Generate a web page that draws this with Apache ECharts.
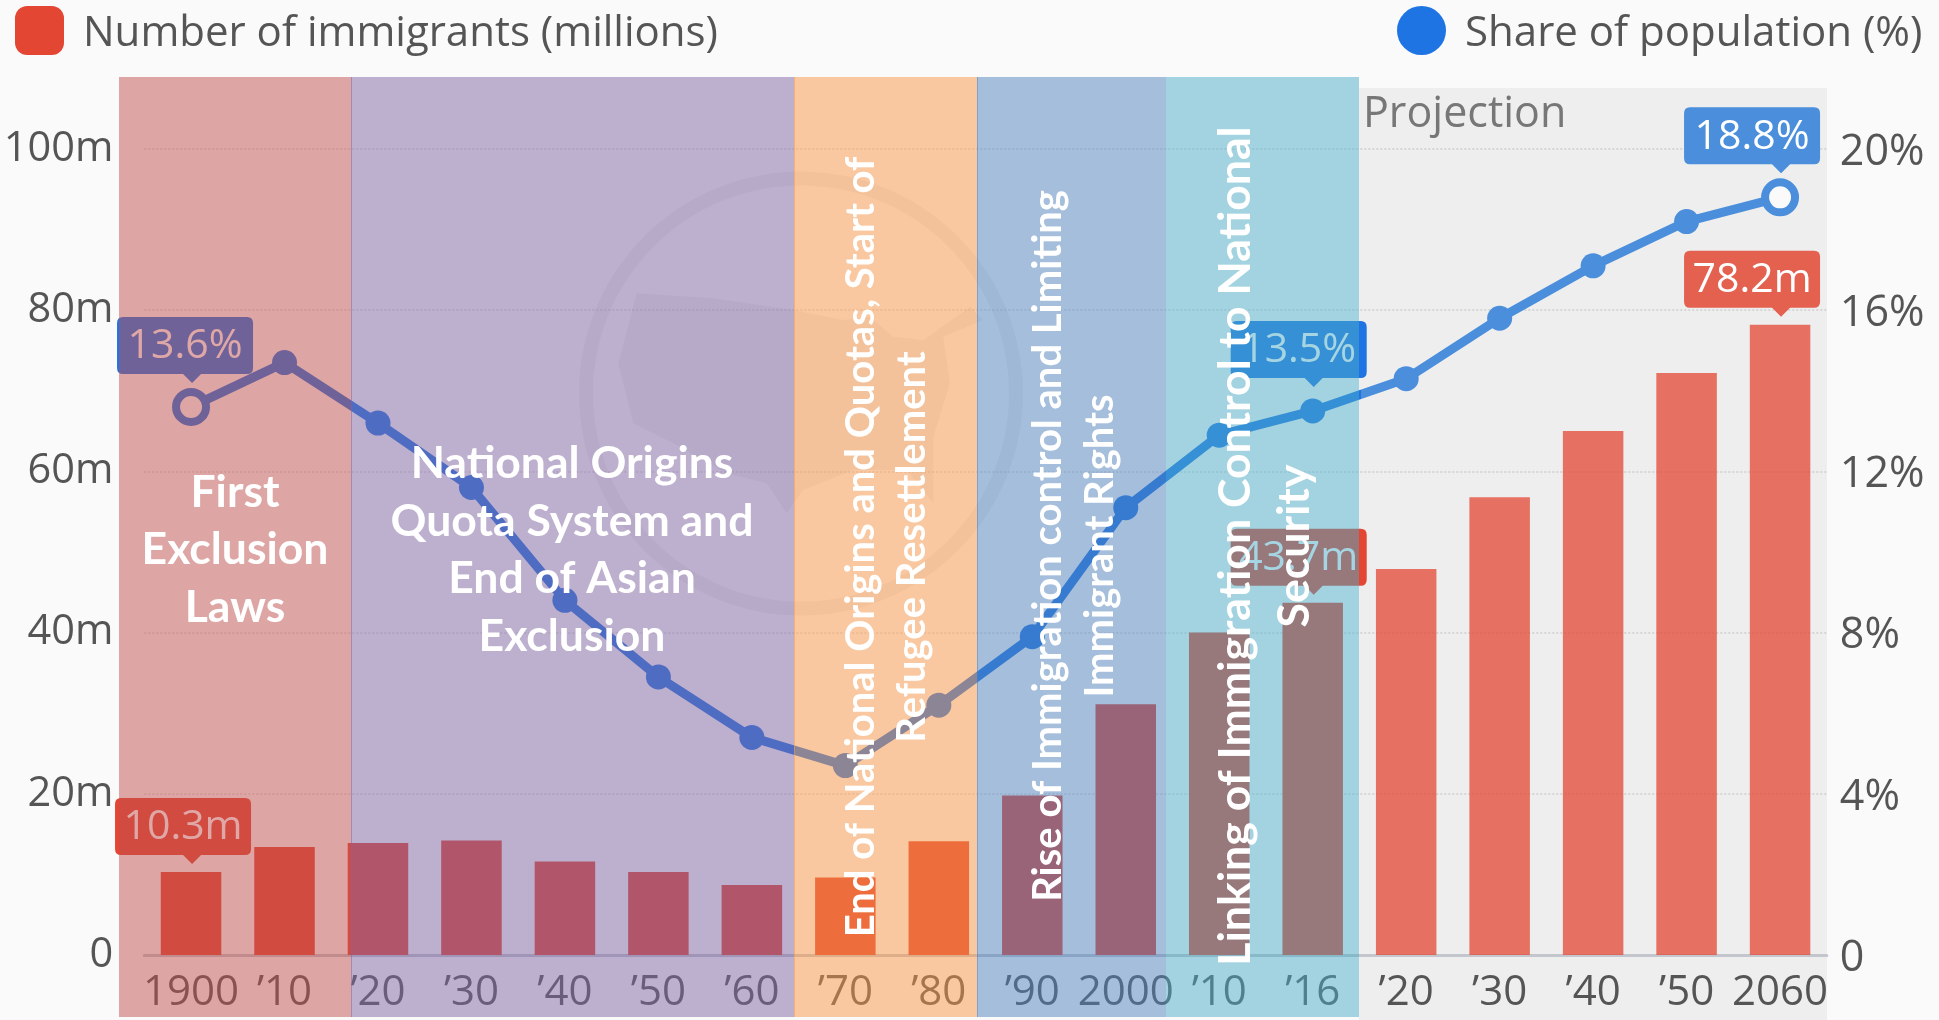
<!DOCTYPE html>
<html>
<head>
<meta charset="utf-8">
<style>html,body{margin:0;padding:0;background:#fafafa}#c{width:1939px;height:1020px}</style>
<script src="https://cdn.jsdelivr.net/npm/echarts@6/dist/echarts.min.js"></script>
</head>
<body>
<div id="c"></div>
<script>
var categories = ["1900","’10","’20","’30","’40","’50","’60","’70","’80","’90","2000","’10","’16","’20","’30","’40","’50","2060"];
var immigrants = [10.3,13.4,13.9,14.2,11.6,10.3,8.7,9.6,14.1,19.8,31.1,40.0,43.7,47.9,56.8,65.0,72.2,78.2];
var sharePct = [13.6,14.7,13.2,11.6,8.8,6.9,5.4,4.7,6.2,7.9,11.1,12.9,13.5,14.3,15.8,17.1,18.2,18.8];
var leftTicks = [0,20,40,60,80,100];
var rightTicks = [0,4,8,12,16,20];
var projectionFrom = 13;
var barCalloutIdx = [0,12,17];
var lineCalloutIdx = [0,12,17];
var eraLabels = ["First\nExclusion\nLaws","National Origins\nQuota System and\nEnd of Asian\nExclusion"];
var eraLabelsRotated = ["End of National Origins and Quotas, Start of\nRefugee Resettlement","Rise of Immigration control and Limiting\nImmigrant Rights","Linking of Immigration Control to National\nSecurity"];

var RED='#e34632', BLUE='#1f74e4', BLUE2='#4a8edc', TXT='#555555', BG='#fafafa';

// callout: rounded box with a tail; tail = tail x offset from box centre
function callout(tail){
  var w=136,h=57,c=69,t=tail,x=c+t;
  return 'path://M6 0H'+(w-6)+'Q'+w+' 0 '+w+' 6V'+(h-6)+'Q'+w+' '+h+' '+(w-6)+' '+h+'H'+(x+9)+'L'+x+' '+(h+9)+'L'+(x-9)+' '+h+'H6Q0 '+h+' 0 '+(h-6)+'V6Q0 0 6 0Z';
}
var barTail = {0:8,12:14,17:28}, lineTail={0:6,12:14,17:28};
function mp(idx, vals, suffix, tails, gap, colorFn){
  return {
    data: idx.map(function(i){
      return {
        coord:[i, vals[i]], value:vals[i].toFixed(1)+suffix,
        symbol:callout(tails[i]), symbolSize:[136,66],
        symbolOffset:[-tails[i], -(33+gap)],
        itemStyle:{color:colorFn(i)},
        label:{show:true,position:'inside',offset:[0,-3.5],color:'#fff',fontSize:41,fontFamily:'Open Sans',formatter:'{c}'}
      };
    }),
    animation:false, silent:true
  };
}

var bars = immigrants.map(function(v,i){
  return i>=projectionFrom ? {value:v,itemStyle:{color:RED,opacity:.75}} : v;
});
var pts = sharePct.map(function(v,i){
  var c = i>=projectionFrom ? BLUE2 : BLUE;
  if(i===0||i===sharePct.length-1){
    return {value:v,symbol:'circle',symbolSize:30,itemStyle:{color:BG,borderColor:c,borderWidth:8,opacity:1}};
  }
  return {value:v,symbol:'circle',symbolSize:25,itemStyle:{color:c}};
});

var usMap = [[230,430],[460,445],[700,480],[850,510],[930,500],[1000,560],[1090,570],[1230,470],[1270,510],[1150,560],[1170,700],[1120,860],[1120,1060],[1040,960],[880,960],[730,1020],[680,1090],[620,1000],[500,970],[340,880],[220,820],[175,640]]
  .map(function(p){return [560+p[0]/3,150+p[1]/3];});

function band(x1,x2,color){
  return {type:'rect',z:100,silent:true,shape:{x:x1,y:77,width:x2-x1,height:940},
    style:{fill:color,opacity:.5}};
}
function edge(x,color){
  return {type:'line',z:100,silent:true,shape:{x1:x+.5,y1:77,x2:x+.5,y2:1017},
    style:{stroke:color,lineWidth:1,opacity:.5}};
}
function hText(x,y,t,lh){
  return {type:'text',z:101,silent:true,x:x,y:y,
    style:{text:t,fill:'#fff',font:'bold 44.5px Lato',align:'center',verticalAlign:'middle',lineHeight:lh}};
}
function vText(x,y,t,lh,size){
  return {type:'text',z:101,silent:true,x:x,y:y,rotation:Math.PI/2,
    style:{text:t,fill:'#fff',font:'bold '+size+'px Lato',align:'center',verticalAlign:'middle',lineHeight:lh}};
}
var legendRich = {a:{fontSize:42,color:TXT,fontFamily:'Open Sans',padding:[8,0,0,14]}};
function legendFmt(n){return '{a|'+n+'}';}

var option = {
  backgroundColor:BG,
  animation:false,
  textStyle:{fontFamily:'Open Sans'},
  legend:[
    {left:15,top:6,itemWidth:49,itemHeight:49,itemGap:0,selectedMode:false,padding:0,
     data:[{name:'Number of immigrants (millions)',icon:'roundRect',itemStyle:{color:RED}}],
     formatter:legendFmt,
     textStyle:{fontSize:42,color:TXT,fontFamily:'Open Sans',rich:legendRich}},
    {left:1397,top:6,itemWidth:49,itemHeight:49,itemGap:0,selectedMode:false,padding:0,
     data:[{name:'Share of population (%)',icon:'circle',itemStyle:{color:BLUE}}],
     formatter:legendFmt,
     textStyle:{fontSize:42,color:TXT,fontFamily:'Open Sans',rich:legendRich}}
  ],
  grid:{left:144.3,right:112.2,top:149,bottom:65,containLabel:false},
  xAxis:{type:'category',data:categories,boundaryGap:true,
    axisTick:{show:false},
    axisLine:{lineStyle:{color:'#c3c7cd',width:3}},
    axisLabel:{interval:0,fontSize:42,color:TXT,margin:17,fontFamily:'Open Sans',hideOverlap:false},
    splitLine:{show:false}},
  yAxis:[
    {type:'value',min:leftTicks[0],max:leftTicks[leftTicks.length-1],interval:20,
     axisLine:{show:false},axisTick:{show:false},
     axisLabel:{fontSize:41.5,color:TXT,margin:31,fontFamily:'Open Sans',formatter:function(v){return v?v+'m':'0';}},
     splitLine:{show:true,lineStyle:{color:'rgba(0,0,0,.10)',type:'dotted',width:2}}},
    {type:'value',min:rightTicks[0],max:rightTicks[rightTicks.length-1],interval:4,position:'right',
     axisLine:{show:false},axisTick:{show:false},
     axisLabel:{margin:13,fontFamily:'Open Sans',
       rich:{a:{fontSize:43,color:TXT,fontFamily:'Open Sans',padding:[7,0,0,0]}},
       formatter:function(v){return '{a|'+(v?v+'%':'0')+'}';}},
     splitLine:{show:false}}
  ],
  series:[
    {name:'Number of immigrants (millions)',type:'bar',data:bars,barWidth:60.5,yAxisIndex:0,
     itemStyle:{color:RED},z:2,
     markPoint:mp(barCalloutIdx,immigrants,'m',barTail,8,function(i){return i===17?'#e4604f':RED;})},
    {name:'Share of population (%)',type:'line',data:pts,yAxisIndex:1,z:3,
     lineStyle:{width:9,color:{type:'linear',x:0,y:0,x2:1,y2:0,colorStops:[{offset:0,color:BLUE},{offset:.735,color:BLUE},{offset:.735,color:BLUE2},{offset:1,color:BLUE2}]}},
     markPoint:mp(lineCalloutIdx,sharePct,'%',lineTail,24,function(i){return i===17?BLUE2:BLUE;})}
  ],
  graphic:[
    {type:'rect',z:-2,silent:true,shape:{x:1359,y:88,width:468,height:932},style:{fill:'#eeeeee'}},
    {type:'circle',z:-1,silent:true,shape:{cx:801,cy:393.5,r:215},style:{fill:'none',stroke:'rgba(0,0,0,.045)',lineWidth:14}},
    {type:'polygon',z:-1,silent:true,shape:{points:usMap},style:{fill:'rgba(0,0,0,.045)'}},
    {type:'text',z:1,silent:true,x:1363,y:115,style:{text:'Projection',fill:'#777',font:'500 43px Open Sans',align:'left',verticalAlign:'middle'}},
    band(119,351,'#C0504D'),
    band(351,794,'#8064A2'),
    band(794,977,'#F79646'),
    band(977,1166,'#4F81BD'),
    band(1166,1359,'#4BACC6'),
    edge(351,'#8064A2'),
    edge(794,'#F79646'),
    edge(977,'#4F81BD'),
    hText(235,550,eraLabels[0],57.5),
    hText(572,550,eraLabels[1],57.5),
    vText(887,547,eraLabelsRotated[0],51,40),
    vText(1074,546,eraLabelsRotated[1],52,40),
    vText(1265,546,eraLabelsRotated[2],59,44.6)
  ]
};
var chart = echarts.init(document.getElementById('c'),null,{renderer:'canvas'});
chart.setOption(option);
</script>
</body>
</html>
